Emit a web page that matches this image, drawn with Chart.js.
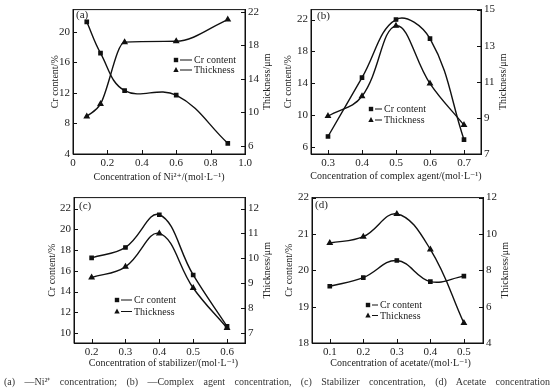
<!DOCTYPE html>
<html>
<head>
<meta charset="utf-8">
<script src="https://cdn.jsdelivr.net/npm/chart.js@4.4.0/dist/chart.umd.min.js"></script>
<style>
body { margin: 0; background: #fff; width: 554px; height: 388px; overflow: hidden; position: relative; font-family: "Liberation Serif", serif; }
canvas { position: absolute; }
#cap { position: absolute; left: 4px; top: 374px; width: 546px; font-size: 10px; color: #333; text-align: justify; text-align-last: justify; white-space: nowrap; }
</style>
</head>
<body>
<canvas id="ca" width="277" height="188" style="left:0;top:0"></canvas>
<canvas id="cb" width="277" height="188" style="left:277px;top:0"></canvas>
<canvas id="cc" width="277" height="188" style="left:0;top:188px"></canvas>
<canvas id="cd" width="277" height="188" style="left:277px;top:188px"></canvas>
<div id="cap">(a) —Ni²⁺ concentration; (b) —Complex agent concentration, (c) Stabilizer concentration, (d) Acetate concentration</div>
<script>
// (a) Ni2+ concentration
var aConc = [0.08, 0.16, 0.3, 0.6, 0.9];
var aCr = [21.3, 17.2, 12.3, 11.7, 5.4];
var aThick = [9.5, 11.0, 18.4, 18.5, 21.1];
var aConcTicks = [0, 0.2, 0.4, 0.6, 0.8, 1.0];
var aCrTicks = [4, 8, 12, 16, 20];
var aThickTicks = [6, 10, 14, 18, 22];

// (b) complex agent concentration
var bConc = [0.3, 0.4, 0.5, 0.6, 0.7];
var bCr = [7.3, 14.7, 22.0, 19.6, 6.9];
var bThick = [9.1, 10.2, 14.1, 10.9, 8.6];
var bConcTicks = [0.3, 0.4, 0.5, 0.6, 0.7];
var bCrTicks = [6, 10, 14, 18, 22];
var bThickTicks = [7, 9, 11, 13, 15];

// (c) stabilizer concentration
var cConc = [0.2, 0.3, 0.4, 0.5, 0.6];
var cCr = [17.25, 18.25, 21.4, 15.6, 10.65];
var cThick = [9.23, 9.66, 11.0, 8.81, 7.2];
var cConcTicks = [0.2, 0.3, 0.4, 0.5, 0.6];
var cCrTicks = [10, 12, 14, 16, 18, 20, 22];
var cThickTicks = [7, 8, 9, 10, 11, 12];

// (d) acetate concentration
var dConc = [0.1, 0.2, 0.3, 0.4, 0.5];
var dCr = [19.56, 19.8, 20.27, 19.69, 19.84];
var dThick = [9.5, 9.85, 11.1, 9.15, 5.1];
var dConcTicks = [0.1, 0.2, 0.3, 0.4, 0.5];
var dCrTicks = [18, 19, 20, 21, 22];
var dThickTicks = [4, 6, 8, 10, 12];

var INK = '#111';
var TXT = '#222';
var FONT = '"Liberation Serif", "DejaVu Serif", serif';

function pairs(xs, ys) {
	return xs.map(function(x, i) { return { x: x, y: ys[i] }; });
}

function fmtX(v) {
	return v === 0 ? '0' : v.toFixed(1);
}

function drawMarker(ctx, style, x, y) {
	ctx.beginPath();
	if (style == 'rect') {
		ctx.rect(x - 2.2, y - 2.2, 4.4, 4.4);
	} else {
		ctx.moveTo(x, y - 3);
		ctx.lineTo(x + 2.7, y + 2);
		ctx.lineTo(x - 2.7, y + 2);
		ctx.closePath();
	}
	ctx.fill();
}

function makePanel(id, p) {
	var W = 277, H = 188;
	var deco = {
		id: 'deco',
		afterDraw: function(chart) {
			var ctx = chart.ctx, ca = chart.chartArea;
			var sx = chart.scales.x, sl = chart.scales.yL, sr = chart.scales.yR;
			ctx.save();
			ctx.strokeStyle = INK;
			ctx.fillStyle = INK;
			ctx.lineWidth = 1;
			ctx.strokeRect(ca.left, ca.top, ca.right - ca.left, ca.bottom - ca.top);
			ctx.beginPath();
			sx.ticks.forEach(function(t) {
				var px = Math.round(sx.getPixelForValue(t.value)) + 0.5;
				ctx.moveTo(px, ca.bottom); ctx.lineTo(px, ca.bottom - 4);
			});
			sl.ticks.forEach(function(t) {
				var py = Math.round(sl.getPixelForValue(t.value)) + 0.5;
				ctx.moveTo(ca.left, py); ctx.lineTo(ca.left + 4, py);
			});
			sr.ticks.forEach(function(t) {
				var py = Math.round(sr.getPixelForValue(t.value)) + 0.5;
				ctx.moveTo(ca.right, py); ctx.lineTo(ca.right - 4, py);
			});
			ctx.stroke();

			// panel letter
			ctx.fillStyle = TXT;
			ctx.font = '11px ' + FONT;
			ctx.textBaseline = 'middle';
			ctx.textAlign = 'left';
			ctx.fillText(p.letter, ca.left + p.letterPos[0], ca.top + p.letterPos[1]);

			// legend
			ctx.font = '10px ' + FONT;
			var lg = p.legend;
			[['rect', 'Cr content'], ['triangle', 'Thickness']].forEach(function(item, i) {
				var y = lg.y + i * lg.gap;
				ctx.fillStyle = INK;
				drawMarker(ctx, item[0], lg.x, y);
				ctx.beginPath();
				ctx.moveTo(lg.x + 4, y); ctx.lineTo(lg.x + 4 + lg.line, y);
				ctx.stroke();
				ctx.fillStyle = TXT;
				ctx.fillText(item[1], lg.x + 6 + lg.line, y + 0.5);
			});

			// axis titles
			ctx.font = '10px ' + FONT;
			ctx.textAlign = 'center';
			var midY = (ca.top + ca.bottom) / 2;
			[[p.leftTitleX, 'Cr content/%'], [p.rightTitleX, 'Thickness/μm']].forEach(function(t) {
				ctx.save();
				ctx.translate(t[0], midY);
				ctx.rotate(-Math.PI / 2);
				ctx.fillText(t[1], 0, 0);
				ctx.restore();
			});
			ctx.fillText(p.xTitle, (ca.left + ca.right) / 2 + p.xTitleDx, p.xTitleY);
			ctx.restore();
		}
	};

	var tickFont = { family: FONT, size: 11 };
	new Chart(document.getElementById(id).getContext('2d'), {
		type: 'line',
		data: {
			datasets: [{
				label: 'Cr content',
				data: pairs(p.conc, p.cr),
				yAxisID: 'yL',
				borderColor: INK,
				backgroundColor: INK,
				borderWidth: 1.4,
				pointStyle: 'rect',
				pointRadius: 2.3,
				tension: 0.4,
				cubicInterpolationMode: p.crMode || 'default',
				fill: false
			}, {
				label: 'Thickness',
				data: pairs(p.conc, p.thick),
				yAxisID: 'yR',
				borderColor: INK,
				backgroundColor: INK,
				borderWidth: 1.4,
				pointStyle: 'triangle',
				pointRadius: 2.6,
				tension: 0.4,
				cubicInterpolationMode: p.thickMode || 'default',
				fill: false
			}]
		},
		options: {
			responsive: false,
			animation: false,
			layout: { padding: { top: p.area.t, left: 0, right: 0, bottom: 0 } },
			plugins: { legend: { display: false }, tooltip: { enabled: false } },
			scales: {
				x: {
					type: 'linear',
					min: p.xRange[0], max: p.xRange[1],
					afterFit: function(s) { s.height = H - p.area.b; },
					afterBuildTicks: function(s) { s.ticks = p.xTicks.map(function(v) { return { value: v }; }); },
					grid: { display: false, drawTicks: false },
					border: { display: true, color: INK },
					ticks: { font: tickFont, color: TXT, padding: 3, maxRotation: 0, callback: function(v) { return fmtX(v); } }
				},
				yL: {
					type: 'linear', position: 'left',
					min: p.crRange[0], max: p.crRange[1],
					afterFit: function(s) { s.width = p.area.l; },
					afterBuildTicks: function(s) { s.ticks = p.crTicks.map(function(v) { return { value: v }; }); },
					grid: { display: false, drawTicks: false },
					border: { display: true, color: INK },
					ticks: { font: tickFont, color: TXT, padding: 3 }
				},
				yR: {
					type: 'linear', position: 'right',
					min: p.thickRange[0], max: p.thickRange[1],
					afterFit: function(s) { s.width = W - p.area.r; },
					afterBuildTicks: function(s) { s.ticks = p.thickTicks.map(function(v) { return { value: v }; }); },
					grid: { display: false, drawTicks: false },
					border: { display: true, color: INK },
					ticks: { font: tickFont, color: TXT, padding: 3 }
				}
			}
		},
		plugins: [deco]
	});
}

makePanel('ca', {
	conc: aConc, cr: aCr, thick: aThick,
	xTicks: aConcTicks, crTicks: aCrTicks, thickTicks: aThickTicks,
	xRange: [0, 1.0], crRange: [4, 22.9], thickRange: [5, 22.3],
	thickMode: 'monotone',
	area: { l: 73, r: 245, t: 7, b: 154 },
	letter: '(a)', letterPos: [3, 6],
	legend: { x: 176, y: 60, gap: 10, line: 12 },
	leftTitleX: 55, rightTitleX: 267,
	xTitle: 'Concentration of Ni²⁺/(mol·L⁻¹)', xTitleY: 177, xTitleDx: 0
});

makePanel('cb', {
	conc: bConc, cr: bCr, thick: bThick,
	xTicks: bConcTicks, crTicks: bCrTicks, thickTicks: bThickTicks,
	xRange: [0.25, 0.75], crRange: [5.1, 23.25], thickRange: [7, 15],
	area: { l: 34, r: 204, t: 7, b: 154 },
	letter: '(b)', letterPos: [6, 7],
	legend: { x: 94, y: 109, gap: 11, line: 7 },
	leftTitleX: 11, rightTitleX: 226,
	xTitle: 'Concentration of complex agent/(mol·L⁻¹)', xTitleY: 176, xTitleDx: 0
});

makePanel('cc', {
	conc: cConc, cr: cCr, thick: cThick,
	xTicks: cConcTicks, crTicks: cCrTicks, thickTicks: cThickTicks,
	xRange: [0.148, 0.653], crRange: [9.05, 23.05], thickRange: [6.6, 12.44],
	area: { l: 74, r: 245, t: 6, b: 155 },
	letter: '(c)', letterPos: [5, 9],
	legend: { x: 117, y: 112, gap: 11.5, line: 11 },
	leftTitleX: 52, rightTitleX: 267,
	xTitle: 'Concentration of stabilizer/(mol·L⁻¹)', xTitleY: 175, xTitleDx: 4
});

makePanel('cd', {
	conc: dConc, cr: dCr, thick: dThick,
	xTicks: dConcTicks, crTicks: dCrTicks, thickTicks: dThickTicks,
	xRange: [0.047, 0.557], crRange: [18, 22], thickRange: [4, 12],
	area: { l: 35, r: 206, t: 7, b: 155 },
	letter: '(d)', letterPos: [3, 8],
	legend: { x: 91, y: 117, gap: 10.5, line: 6 },
	leftTitleX: 12, rightTitleX: 228,
	xTitle: 'Concentration of acetate/(mol·L⁻¹)', xTitleY: 175, xTitleDx: 3
});
</script>
</body>
</html>
